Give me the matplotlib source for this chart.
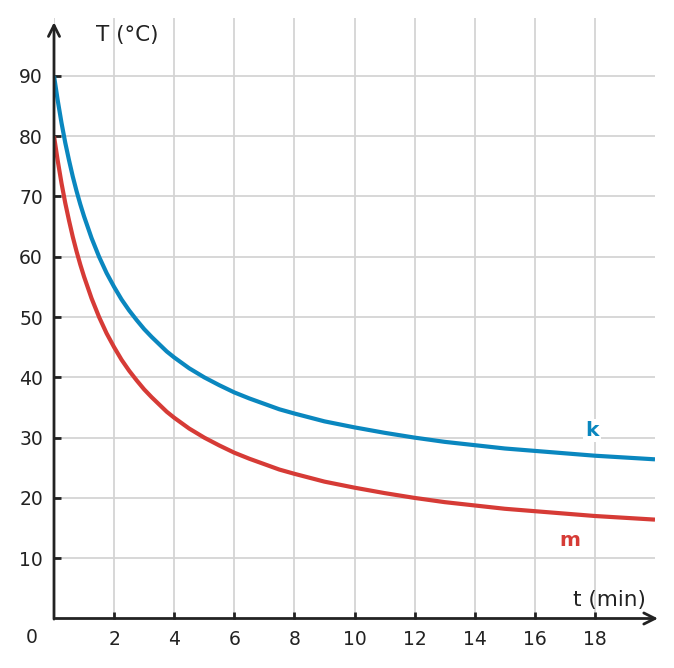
import matplotlib
matplotlib.use("Agg")
import matplotlib.pyplot as plt

# data
t = [0, 0.125, 0.25, 0.375, 0.5, 0.625, 0.75, 0.875, 1, 1.25, 1.5, 1.75, 2, 2.25, 2.5,
     2.75, 3, 3.25, 3.5, 3.75, 4, 4.5, 5, 5.5, 6, 6.5, 7, 7.5, 8, 9, 10,
     11, 12, 13, 14, 15, 16, 17, 18, 19, 20]
k_vals = [90, 85.9, 82.2, 78.9, 76, 73.3, 70.9, 68.7, 66.7, 63.1, 60, 57.3, 55, 52.9, 51.1,
          49.5, 48, 46.7, 45.5, 44.3, 43.3, 41.5, 40, 38.7, 37.5, 36.5, 35.6, 34.7, 34, 32.7, 31.7,
          30.8, 30, 29.3, 28.75, 28.2, 27.8, 27.4, 27, 26.7, 26.4]
m_vals = [80, 75.9, 72.2, 68.9, 66, 63.3, 60.9, 58.7, 56.7, 53.1, 50, 47.3, 45, 42.9, 41.1,
          39.5, 38, 36.7, 35.5, 34.3, 33.3, 31.5, 30, 28.7, 27.5, 26.5, 25.6, 24.7, 24, 22.7, 21.7,
          20.8, 20, 19.3, 18.75, 18.2, 17.8, 17.4, 17, 16.7, 16.4]
x_ticks = [2, 4, 6, 8, 10, 12, 14, 16, 18]
y_ticks = [10, 20, 30, 40, 50, 60, 70, 80, 90]
x_grid = [0, 2, 4, 6, 8, 10, 12, 14, 16, 18]
y_grid = [0, 10, 20, 30, 40, 50, 60, 70, 80, 90]

BLUE = '#0a87bf'
RED = '#d63b36'
AXC = '#222222'
GRID = '#d4d4d4'

fig = plt.figure(figsize=(6.74, 6.68), dpi=100)
ax = fig.add_axes([54/674, (668-618.5)/668, 601/674, 600.5/668])
ax.set_xlim(0, 20)
ax.set_ylim(0, 99.6)

for s in ax.spines.values():
    s.set_visible(False)

ax.vlines(x_grid, 0, 99.6, color=GRID, lw=1.3, zorder=1)
ax.hlines(y_grid, 0, 20, color=GRID, lw=1.3, zorder=1)

ax.plot(t, k_vals, color=BLUE, lw=3.0, zorder=3, solid_capstyle='butt', solid_joinstyle='round')
ax.plot(t, m_vals, color=RED, lw=3.0, zorder=3, solid_capstyle='butt', solid_joinstyle='round')

# axes with arrows
ax.annotate('', xy=(0, 98.9), xytext=(0, -0.1),
            arrowprops=dict(arrowstyle='->', lw=2.0, color=AXC, mutation_scale=20,
                            shrinkA=0, shrinkB=0), annotation_clip=False, zorder=4)
ax.annotate('', xy=(20.1, 0), xytext=(0.05, 0),
            arrowprops=dict(arrowstyle='->', lw=2.0, color=AXC, mutation_scale=20,
                            shrinkA=0, shrinkB=0), annotation_clip=False, zorder=4)

ax.set_xticks(x_ticks)
ax.set_yticks(y_ticks)
ax.set_xticklabels([str(v) for v in x_ticks])
ax.set_yticklabels([str(v) for v in y_ticks])
ax.tick_params(axis='both', direction='in', length=5, width=2, color=AXC,
               labelsize=13.5, labelcolor=AXC, pad=8)
ax.text(-0.55, -3.2, '0', ha='right', va='center', fontsize=13.5, color=AXC)

ax.text(2.43, 96.8, 'T (°C)', ha='center', va='center', fontsize=15.5, color=AXC)
ax.text(18.47, 3.15, 't (min)', ha='center', va='center', fontsize=15.5, color=AXC)

ax.text(17.9, 31.2, 'k', ha='center', va='center', fontsize=14.5, fontweight='bold',
        color=BLUE, zorder=5,
        bbox=dict(boxstyle='square,pad=0.1', fc='white', ec='none'))
ax.text(17.17, 12.9, 'm', ha='center', va='center', fontsize=14.5, fontweight='bold',
        color=RED, zorder=5)

fig.savefig('out.png', dpi=100)
